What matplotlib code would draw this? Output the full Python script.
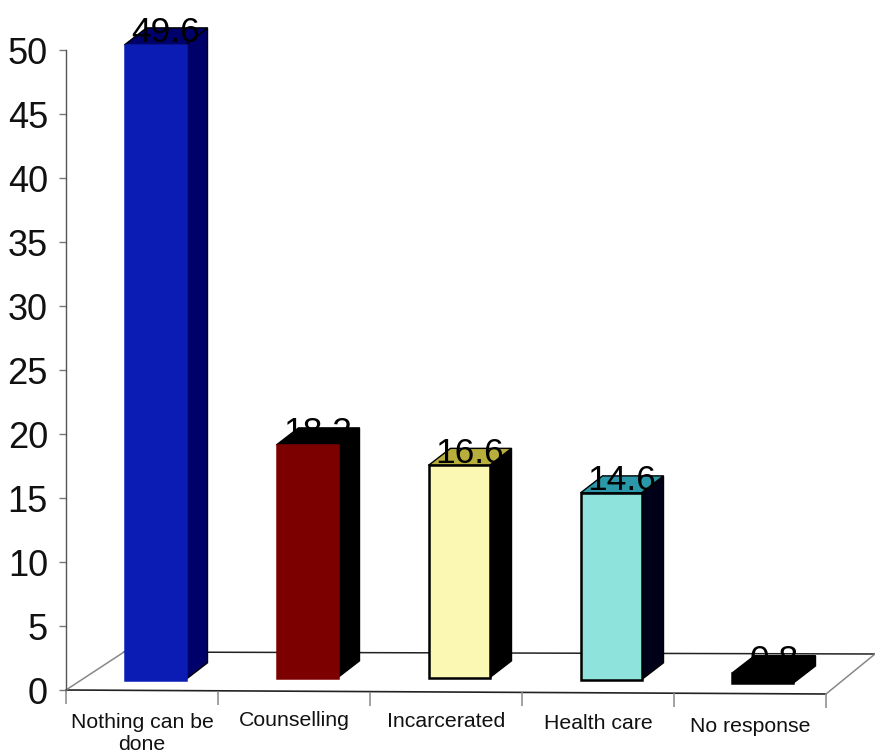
import matplotlib
matplotlib.use("Agg")
import matplotlib.pyplot as plt
from matplotlib.patches import Polygon
from matplotlib.transforms import Affine2D

plt.rcParams['font.family'] = ['Liberation Sans', 'DejaVu Sans']

# Survey responses (%)
categories = ['Nothing can be\ndone', 'Counselling', 'Incarcerated', 'Health care', 'No response']
values = [49.6, 18.2, 16.6, 14.6, 0.8]
value_labels = ['49.6', '18.2', '16.6', '14.6', '0.8']
y_ticks = list(range(0, 55, 5))

# Bar colours: front, side and top faces
front_colors = ['#0a1cb4', '#7c0000', '#fbf8b4', '#8fe3dd', '#000000']
side_colors = ['#00006a', '#000000', '#000000', '#000018', '#000000']
top_colors = ['#00006a', '#000000', '#b8ae3c', '#2a98a8', '#000000']
edge_colors = ['#0a1cb4', '#7c0000', '#000000', '#000000', '#000000']

fig = plt.figure(figsize=(8.75, 7.55), dpi=100)
ax = fig.add_axes([66 / 875, 65 / 755, 760 / 875, 640 / 755])
ax.set_xlim(0, 5)
ax.set_ylim(0, 50)

# pixel sizes expressed in data units
px_x = 5 / 760
px_y = 50 / 640
depth_x = 22 * px_x
depth_y = 17 * px_y
floor_x = 49 * px_x
floor_y = 38 * px_y
tilt = 4 * px_y

# floor of the 3D box, it leans a little to the right
floor = [(0, 0), (5, -tilt), (5 + floor_x, floor_y - tilt * 0.5), (floor_x + 9 * px_x, floor_y)]
ax.plot([floor[0][0], floor[1][0]], [floor[0][1], floor[1][1]], color='#222222', lw=1.2, clip_on=False, zorder=1)
ax.plot([floor[3][0], floor[2][0]], [floor[3][1], floor[2][1]], color='#222222', lw=1.1, clip_on=False, zorder=1)
ax.plot([floor[0][0], floor[3][0]], [floor[0][1], floor[3][1]], color='#888888', lw=1.1, clip_on=False, zorder=1)
ax.plot([floor[1][0], floor[2][0]], [floor[1][1], floor[2][1]], color='#888888', lw=1.1, clip_on=False, zorder=1)

# front faces sit slightly above the axis line
bar_width = 61 * px_x
bar_shift = 13 * px_x
bar_floor = [0.8, 0.95, 0.95, 0.8, 0.55]
positions = [i + 0.5 + bar_shift for i in range(len(values))]

bars = ax.bar(positions, values, width=bar_width, bottom=bar_floor, color=front_colors,
              edgecolor=edge_colors, linewidth=1.8, clip_on=False, zorder=4)

for i, rect in enumerate(bars):
    x0 = rect.get_x()
    x1 = x0 + rect.get_width()
    y0 = rect.get_y()
    y1 = y0 + rect.get_height()
    side = [(x1, y0), (x1 + depth_x, y0 + depth_y), (x1 + depth_x, y1 + depth_y), (x1, y1)]
    top = [(x0, y1), (x1, y1), (x1 + depth_x, y1 + depth_y), (x0 + depth_x, y1 + depth_y)]
    ax.add_patch(Polygon(side, closed=True, facecolor=side_colors[i], edgecolor='#000000',
                         linewidth=1.0, clip_on=False, zorder=3))
    ax.add_patch(Polygon(top, closed=True, facecolor=top_colors[i], edgecolor='#000000',
                         linewidth=1.0, clip_on=False, zorder=3))
    ax.text(positions[i] + 11 * px_x, y1 + 2.5 * px_y, value_labels[i], fontsize=25.5, color='#000000',
            ha='center', va='baseline', clip_on=False, zorder=5)

# y axis
for name in ['top', 'right', 'bottom']:
    ax.spines[name].set_visible(False)
ax.spines['left'].set_color('#555555')
ax.spines['left'].set_linewidth(1.0)
ax.patch.set_alpha(0)
ax.set_yticks(y_ticks)
ax.tick_params(axis='y', length=5, width=1.0, color='#777777', pad=8, labelsize=26, labelcolor='#111111')

# x axis: ticks between categories, labels centred on the categories
ax.set_xticks(range(6))
ax.set_xticklabels([])
ax.tick_params(axis='x', which='major', length=10, width=1.1, color='#888888')
ax.set_xticks([i + 0.5 for i in range(5)], minor=True)
ax.set_xticklabels(categories, minor=True, fontsize=15.3, color='#111111', linespacing=1.25)
ax.tick_params(axis='x', which='minor', length=0, pad=15.5)

# ticks and labels follow the leaning floor
for i, tick in enumerate(ax.xaxis.get_major_ticks()):
    drop = Affine2D().translate(0, -i * 0.8)
    tick.tick1line.set_transform(tick.tick1line.get_transform() + drop)
label_drop = [1, -1, 0, 2, 5]
for tick, d in zip(ax.xaxis.get_minor_ticks(), label_drop):
    tick.label1.set_transform(tick.label1.get_transform() + Affine2D().translate(0, -d))

fig.savefig("out.png", dpi=100)
